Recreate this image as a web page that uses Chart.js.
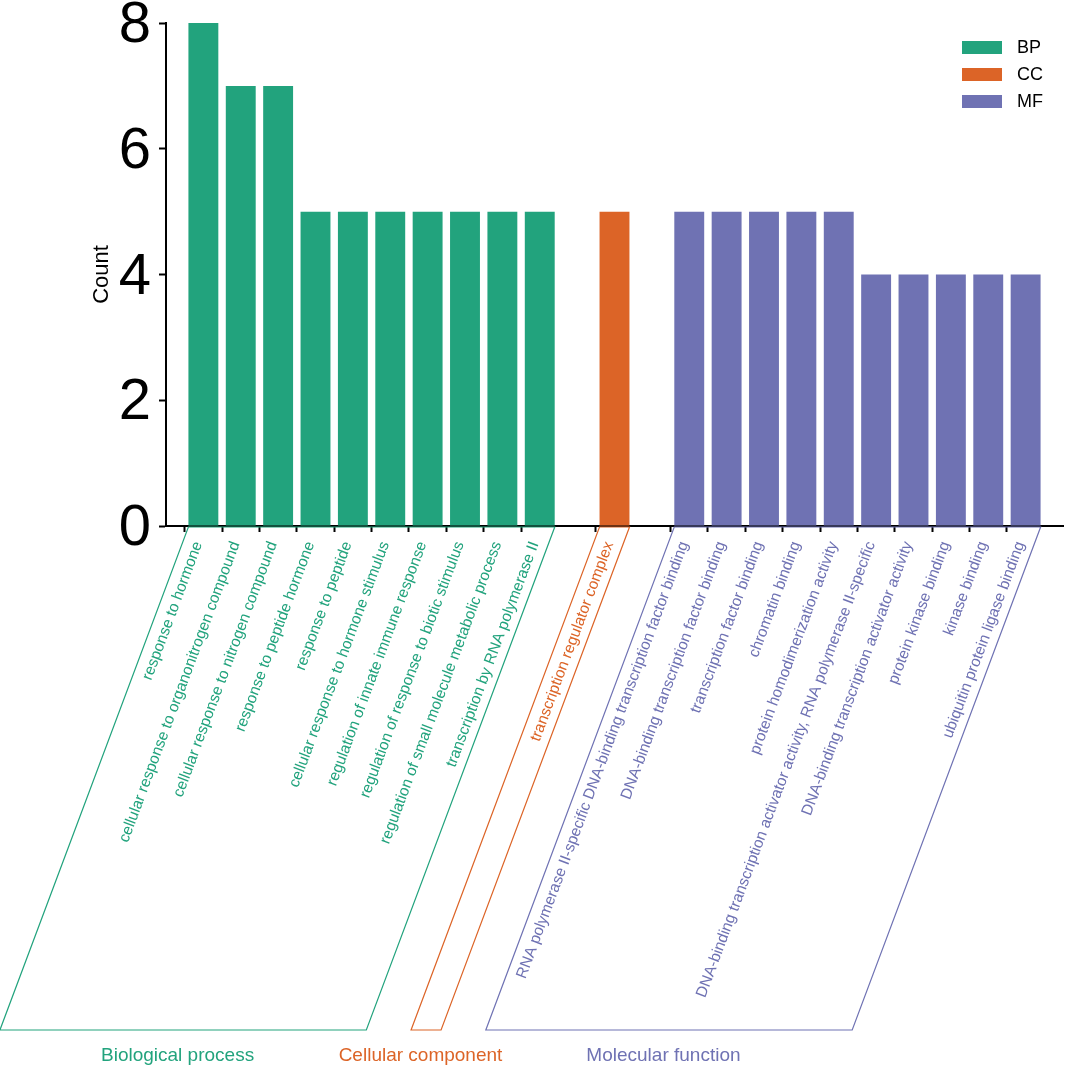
<!DOCTYPE html>
<html>
<head>
<meta charset="utf-8">
<script src="https://cdn.jsdelivr.net/npm/chart.js@4.4.1/dist/chart.umd.min.js"></script>
<style>
  body { margin: 0; background: #fff; }
</style>
</head>
<body>
<canvas id="myChart" width="1065" height="1068"></canvas>
<script>
// GO terms and counts per category
var bpTerms = [
  'response to hormone',
  'cellular response to organonitrogen compound',
  'cellular response to nitrogen compound',
  'response to peptide hormone',
  'response to peptide',
  'cellular response to hormone stimulus',
  'regulation of innate immune response',
  'regulation of response to biotic stimulus',
  'regulation of small molecule metabolic process',
  'transcription by RNA polymerase II'
];
var bpCounts = [8, 7, 7, 5, 5, 5, 5, 5, 5, 5];

var ccTerms = ['transcription regulator complex'];
var ccCounts = [5];

var mfTerms = [
  'RNA polymerase II-specific DNA-binding transcription factor binding',
  'DNA-binding transcription factor binding',
  'transcription factor binding',
  'chromatin binding',
  'protein homodimerization activity',
  'DNA-binding transcription activator activity, RNA polymerase II-specific',
  'DNA-binding transcription activator activity',
  'protein kinase binding',
  'kinase binding',
  'ubiquitin protein ligase binding'
];
var mfCounts = [5, 5, 5, 5, 5, 4, 4, 4, 4, 4];

var groupNames = ['BP', 'CC', 'MF'];
var groupTitles = ['Biological process', 'Cellular component', 'Molecular function'];
var yTicks = [0, 2, 4, 6, 8];

var colors = ['#22a37d', '#dc6427', '#6f72b3'];
var FONT = '"Liberation Sans", Arial, Helvetica, sans-serif';

// layout of the category axis: blank slot, BP, blank, CC, blank, MF, blank
var labels = [''];
var groupOf = [-1];
var groupRanges = [];
[bpTerms, ccTerms, mfTerms].forEach(function (terms, g) {
  var start = labels.length;
  terms.forEach(function (t) { labels.push(t); groupOf.push(g); });
  groupRanges.push([start, labels.length - 1]);
  labels.push('');
  groupOf.push(-1);
});

function seriesFor(g, counts) {
  var arr = labels.map(function () { return null; });
  counts.forEach(function (v, i) { arr[groupRanges[g][0] + i] = v; });
  return arr;
}

var groupDecor = {
  id: 'groupDecor',
  afterDraw: function (chart) {
    var ctx = chart.ctx;
    var x = chart.scales.x;
    var area = chart.chartArea;
    var bottomY = 1030;
    var shift = (bottomY - area.bottom) / Math.tan(69.5 * Math.PI / 180);
    var half = 15;
    ctx.save();
    groupRanges.forEach(function (r, g) {
      var x0 = x.getPixelForValue(r[0]) - half;
      var x1 = x.getPixelForValue(r[1]) + half;
      ctx.strokeStyle = colors[g];
      ctx.lineWidth = 1.2;
      ctx.beginPath();
      ctx.moveTo(x0, area.bottom + 1);
      ctx.lineTo(x1, area.bottom + 1);
      ctx.lineTo(x1 - shift, bottomY);
      ctx.lineTo(x0 - shift, bottomY);
      ctx.closePath();
      ctx.stroke();

      var cx = (x.getPixelForValue(r[0]) + x.getPixelForValue(r[1])) / 2 - 194;
      ctx.fillStyle = colors[g];
      ctx.font = '19px ' + FONT;
      ctx.textAlign = 'center';
      ctx.textBaseline = 'middle';
      ctx.fillText(groupTitles[g], cx, 1056);
    });

    // legend, top right
    groupNames.forEach(function (name, g) {
      var y = 41 + g * 27;
      ctx.fillStyle = colors[g];
      ctx.fillRect(962, y, 40, 13);
      ctx.fillStyle = '#000';
      ctx.font = '18px ' + FONT;
      ctx.textAlign = 'left';
      ctx.textBaseline = 'middle';
      ctx.fillText(name, 1017, y + 7);
    });
    ctx.restore();
  }
};

var ctx = document.getElementById('myChart').getContext('2d');
var myChart = new Chart(ctx, {
  type: 'bar',
  data: {
    labels: labels,
    datasets: [
      { label: 'BP', data: seriesFor(0, bpCounts), backgroundColor: colors[0] },
      { label: 'CC', data: seriesFor(1, ccCounts), backgroundColor: colors[1] },
      { label: 'MF', data: seriesFor(2, mfCounts), backgroundColor: colors[2] }
    ]
  },
  options: {
    responsive: false,
    animation: false,
    layout: { padding: { top: 23, right: 2, left: 0, bottom: 0 } },
    datasets: {
      bar: { grouped: false, barPercentage: 0.8, categoryPercentage: 1.0 }
    },
    plugins: {
      legend: { display: false },
      tooltip: { enabled: false }
    },
    scales: {
      x: {
        offset: false,
        border: { display: true, color: '#000', width: 2 },
        grid: {
          drawOnChartArea: false,
          drawTicks: true,
          tickLength: 6,
          tickWidth: 2,
          tickColor: function (c) { return labels[c.index] ? '#000' : 'rgba(0,0,0,0)'; }
        },
        ticks: {
          autoSkip: false,
          minRotation: 69.5,
          maxRotation: 69.5,
          padding: 7,
          labelOffset: -5,
          font: { family: FONT, size: 15.5 },
          color: function (c) { return groupOf[c.index] >= 0 ? colors[groupOf[c.index]] : '#000'; }
        },
        afterFit: function (s) {
          s.height = 1068 - 526;
          s.paddingLeft = 0;
          s.paddingRight = 0;
        }
      },
      y: {
        min: 0,
        max: 8,
        border: { display: true, color: '#000', width: 2 },
        grid: {
          drawOnChartArea: false,
          drawTicks: true,
          tickLength: 7,
          tickWidth: 2,
          tickColor: '#000'
        },
        afterBuildTicks: function (s) {
          s.ticks = yTicks.map(function (v) { return { value: v }; });
        },
        ticks: {
          padding: 8,
          labelOffset: 3,
          color: '#000',
          font: { family: FONT, size: 58 }
        },
        title: {
          display: true,
          text: 'Count',
          color: '#000',
          font: { family: FONT, size: 22 },
          padding: { top: 89, bottom: 0 }
        },
        afterFit: function (s) {
          s.width = 166;
          s.paddingTop = 0;
          s.paddingBottom = 0;
        }
      }
    }
  },
  plugins: [groupDecor]
});
</script>
</body>
</html>
